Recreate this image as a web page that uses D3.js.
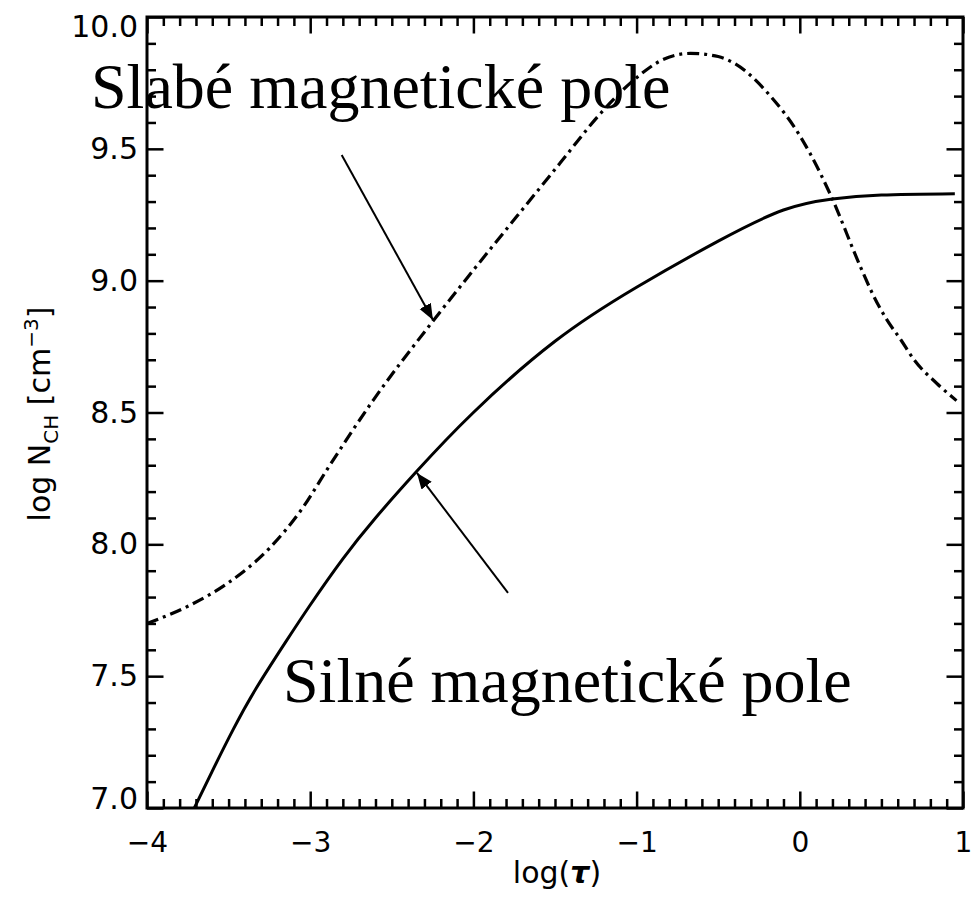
<!DOCTYPE html>
<html>
<head>
<meta charset="utf-8">
<script src="https://cdn.jsdelivr.net/npm/d3@7"></script>
<style>
  html, body { margin: 0; padding: 0; background: #ffffff; }
  svg { display: block; }
</style>
</head>
<body>
<script>
// ---- data ----
const xDomain = [-4, 1];
const yDomain = [7.0, 10.0];
const xMajorTicks = [-4, -3, -2, -1, 0, 1];
const yMajorTicks = [7.0, 7.5, 8.0, 8.5, 9.0, 9.5, 10.0];
const yTickLabels = ["7.0", "7.5", "8.0", "8.5", "9.0", "9.5", "10.0"];

// strong magnetic field (solid)
const strongX = [-3.71, -3.60, -3.47, -3.33, -3.15, -3.00, -2.80, -2.60, -2.35, -2.00, -1.50, -1.00, -0.50, -0.10, 0.20, 0.50, 0.95];
const strongY = [7.00, 7.14, 7.30, 7.455, 7.63, 7.77, 7.945, 8.10, 8.275, 8.50, 8.77, 8.975, 9.15, 9.268, 9.31, 9.325, 9.33];

// weak magnetic field (dash-dot)
const weakX = [-4.0, -3.75, -3.5, -3.25, -3.05, -2.88, -2.61, -2.25, -2.0, -1.735, -1.47, -1.22, -1.0, -0.85, -0.67, -0.5, -0.4, -0.18, 0.0, 0.065, 0.185, 0.37, 0.45, 0.53, 0.62, 0.70, 0.84, 0.96];
const weakY = [7.70, 7.765, 7.855, 7.985, 8.135, 8.30, 8.55, 8.845, 9.04, 9.243, 9.445, 9.635, 9.77, 9.835, 9.862, 9.85, 9.824, 9.70, 9.55, 9.48, 9.33, 9.055, 8.945, 8.855, 8.775, 8.70, 8.61, 8.545];

const labelWeak = "Slabé magnetické pole";
const labelStrong = "Silné magnetické pole";

// annotation arrows in data coords: [x0, y0, x1(tip), y1(tip)]
const arrowWeak = [-2.807, 9.477, -2.248, 8.851];
const arrowStrong = [-1.788, 7.816, -2.346, 8.271];

// ---- layout ----
const W = 972, H = 897;
const pL = 147, pR = 963, pT = 17, pB = 808;

const svg = d3.select("body").append("svg")
  .attr("width", W).attr("height", H)
  .attr("viewBox", `0 0 ${W} ${H}`);

svg.append("rect").attr("width", W).attr("height", H).attr("fill", "#ffffff");

const x = d3.scaleLinear().domain(xDomain).range([pL, pR]);
const y = d3.scaleLinear().domain(yDomain).range([pB, pT]);

const xMinor = d3.range(-40, 11).map(d => d / 10).filter(d => !xMajorTicks.some(m => Math.abs(m - d) < 1e-9));
const yMinor = d3.range(70, 101).map(d => d / 10).filter(d => !yMajorTicks.some(m => Math.abs(m - d) < 1e-9));

const tickFont = "DejaVu Sans, Liberation Sans, Arial, sans-serif";
const majorLen = 16.5, minorLen = 9, tickW = 2.5;

function styleAxis(g, fs) {
  g.select(".domain").remove();
  g.selectAll(".tick line").attr("stroke", "#000").attr("stroke-width", tickW);
  g.selectAll(".tick text").attr("fill", "#000").attr("font-family", tickFont).attr("font-size", fs || 28);
}

// bottom
svg.append("g").attr("transform", `translate(0,${pB})`)
  .call(d3.axisBottom(x).tickValues(xMajorTicks).tickSize(-majorLen).tickPadding(24).tickFormat(d3.format("d")))
  .call(styleAxis, 28);
svg.append("g").attr("transform", `translate(0,${pB})`)
  .call(d3.axisBottom(x).tickValues(xMinor).tickSize(-minorLen).tickFormat(""))
  .call(styleAxis);
// top
svg.append("g").attr("transform", `translate(0,${pT})`)
  .call(d3.axisTop(x).tickValues(xMajorTicks).tickSize(-majorLen).tickFormat(""))
  .call(styleAxis);
svg.append("g").attr("transform", `translate(0,${pT})`)
  .call(d3.axisTop(x).tickValues(xMinor).tickSize(-minorLen).tickFormat(""))
  .call(styleAxis);
// left
const gl = svg.append("g").attr("transform", `translate(${pL},0)`)
  .call(d3.axisLeft(y).tickValues(yMajorTicks).tickSize(-majorLen).tickPadding(9)
        .tickFormat((d, i) => yTickLabels[i]))
  .call(styleAxis, 30);
gl.selectAll(".tick text").attr("y", d => d === 10 ? 10 : (d === 7 ? -9.5 : 0));
svg.append("g").attr("transform", `translate(${pL},0)`)
  .call(d3.axisLeft(y).tickValues(yMinor).tickSize(-minorLen).tickFormat(""))
  .call(styleAxis);
// right
svg.append("g").attr("transform", `translate(${pR},0)`)
  .call(d3.axisRight(y).tickValues(yMajorTicks).tickSize(-majorLen).tickFormat(""))
  .call(styleAxis);
svg.append("g").attr("transform", `translate(${pR},0)`)
  .call(d3.axisRight(y).tickValues(yMinor).tickSize(-minorLen).tickFormat(""))
  .call(styleAxis);

// frame
svg.append("rect")
  .attr("x", pL).attr("y", pT)
  .attr("width", pR - pL).attr("height", pB - pT)
  .attr("fill", "none").attr("stroke", "#000").attr("stroke-width", 3);

// axis titles
const xt = svg.append("text")
  .attr("x", 557).attr("y", 883)
  .attr("text-anchor", "middle")
  .attr("font-family", tickFont).attr("font-size", 30).attr("fill", "#000");
xt.append("tspan").text("log(");
xt.append("tspan").text("τ").attr("font-style", "italic").attr("font-weight", "bold");
xt.append("tspan").text(")");

const yt = svg.append("text")
  .attr("transform", `translate(50,414) rotate(-90)`)
  .attr("text-anchor", "middle")
  .attr("font-family", tickFont).attr("font-size", 30).attr("fill", "#000");
yt.append("tspan").text("log N");
yt.append("tspan").text("CH").attr("font-size", 20).attr("dy", 8);
yt.append("tspan").text(" [cm").attr("dy", -8);
yt.append("tspan").text("−3").attr("font-size", 20).attr("dy", -12);
yt.append("tspan").text("]").attr("dy", 12);

// curves
const lineSolid = d3.line().x(d => x(d[0])).y(d => y(d[1])).curve(d3.curveNatural);
const lineWeak = d3.line().x(d => x(d[0])).y(d => y(d[1])).curve(d3.curveMonotoneX);
svg.append("clipPath").attr("id", "plotclip")
  .append("rect").attr("x", pL).attr("y", pT).attr("width", pR - pL).attr("height", pB - pT);

svg.append("path")
  .datum(strongX.map((v, i) => [v, strongY[i]]))
  .attr("clip-path", "url(#plotclip)")
  .attr("d", lineSolid).attr("fill", "none").attr("stroke", "#000").attr("stroke-width", 3);

svg.append("path")
  .datum(weakX.map((v, i) => [v, weakY[i]]))
  .attr("clip-path", "url(#plotclip)")
  .attr("d", lineWeak).attr("fill", "none").attr("stroke", "#000").attr("stroke-width", 3.2)
  .attr("stroke-dasharray", "12,5,3,5");

// arrows
svg.append("defs").append("marker")
  .attr("id", "ah").attr("viewBox", "0 0 10 10")
  .attr("refX", 10).attr("refY", 5)
  .attr("markerWidth", 8).attr("markerHeight", 8)
  .attr("markerUnits", "strokeWidth")
  .attr("orient", "auto")
  .append("path").attr("d", "M0,1 L10,5 L0,9 z").attr("fill", "#000");

[arrowWeak, arrowStrong].forEach(a => {
  svg.append("line")
    .attr("x1", x(a[0])).attr("y1", y(a[1]))
    .attr("x2", x(a[2])).attr("y2", y(a[3]))
    .attr("stroke", "#000").attr("stroke-width", 2)
    .attr("marker-end", "url(#ah)");
});

// big labels
const serif = "Liberation Serif, Times New Roman, Times, serif";
svg.append("text").text(labelWeak)
  .attr("x", 91).attr("y", 108)
  .attr("font-family", serif).attr("font-size", 64).attr("fill", "#000");
svg.append("text").text(labelStrong)
  .attr("x", 283).attr("y", 702)
  .attr("font-family", serif).attr("font-size", 64).attr("fill", "#000");
</script>
</body>
</html>
